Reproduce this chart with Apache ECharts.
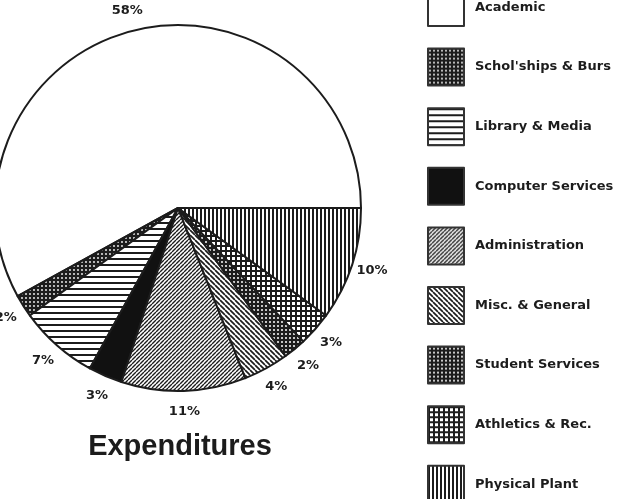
<!DOCTYPE html>
<html>
<head>
<meta charset="utf-8">
<script src="https://cdn.jsdelivr.net/npm/echarts@6/dist/echarts.min.js"></script>
<style>
  html, body { margin: 0; padding: 0; background: #fff; }
  #chart { width: 627px; height: 499px; }
</style>
</head>
<body>
<div id="chart"></div>
<script>
  // data (percent of expenditures)
  var categories = ['Academic', "Schol'ships & Burs", 'Library & Media', 'Computer Services',
    'Administration', 'Misc. & General', 'Student Services', 'Athletics & Rec.', 'Physical Plant'];
  var values = [58, 2, 7, 3, 11, 4, 2, 3, 10];
  var titleText = 'Expenditures';

  var ink = '#1c1c1c';

  // small canvas tiles for the hatch fills
  function tile(size, bg, draw) {
    var c = document.createElement('canvas');
    c.width = size; c.height = size;
    var ctx = c.getContext('2d');
    ctx.fillStyle = bg;
    ctx.fillRect(0, 0, size, size);
    draw(ctx, size);
    return { image: c, repeat: 'repeat' };
  }
  function dots(size, r) {
    return tile(size, ink, function (ctx, s) {
      ctx.fillStyle = '#fff';
      ctx.beginPath();
      ctx.arc(s / 2, s / 2, r, 0, Math.PI * 2);
      ctx.fill();
    });
  }
  function diag(size, w, up) {
    return tile(size, '#fff', function (ctx, s) {
      ctx.strokeStyle = ink;
      ctx.lineWidth = w;
      ctx.beginPath();
      for (var k = -1; k <= 1; k++) {
        if (up) { ctx.moveTo(k * s, s); ctx.lineTo(k * s + s, 0); }
        else { ctx.moveTo(k * s, 0); ctx.lineTo(k * s + s, s); }
      }
      ctx.stroke();
    });
  }

  var fills = [
    '#ffffff',                                                        // Academic
    dots(4, 0.9),                                                     // Schol'ships
    tile(6, '#fff', function (ctx) { ctx.fillStyle = ink; ctx.fillRect(0, 0, 6, 2); }),   // Library
    '#111111',                                                        // Computer
    diag(4, 1.4, true),                                               // Administration
    diag(5, 1.7, false),                                              // Misc
    dots(4, 1.0),                                                     // Student services
    tile(5, ink, function (ctx) { ctx.fillStyle = '#fff'; ctx.fillRect(2, 2, 3, 3); }),   // Athletics
    tile(4, '#fff', function (ctx) { ctx.fillStyle = ink; ctx.fillRect(0, 0, 2, 4); })    // Physical plant
  ];

  var pieData = categories.map(function (name, i) {
    return { name: name, value: values[i], itemStyle: { color: fills[i] } };
  });

  var myChart = echarts.init(document.getElementById('chart'));
  var option = {
    backgroundColor: '#fff',
    animation: false,
    title: {
      text: titleText,
      left: 180,
      top: 432,
      padding: 0,
      textAlign: 'center',
      textStyle: { fontFamily: 'Liberation Sans', fontWeight: 'bold', fontSize: 29, color: ink }
    },
    legend: {
      orient: 'vertical',
      left: 427,
      top: -12,
      height: 700,
      padding: 0,
      itemWidth: 36,
      itemHeight: 37,
      itemGap: 20.6,
      icon: 'rect',
      data: categories,
      itemStyle: { borderColor: '#333', borderWidth: 2 },
      textStyle: {
        fontFamily: 'DejaVu Sans', fontWeight: 'bold', fontSize: 13, color: ink,
        padding: [0, 0, 0, 6]
      }
    },
    series: [
      {
        type: 'pie',
        center: [178, 208],
        radius: 183,
        startAngle: 0,
        clockwise: false,
        avoidLabelOverlap: false,
        itemStyle: { borderColor: ink, borderWidth: 2 },
        emphasis: { disabled: true },
        label: {
          show: true,
          position: 'outside',
          formatter: '{c}%',
          fontFamily: 'DejaVu Sans',
          fontWeight: 'bold',
          fontSize: 13,
          color: ink
        },
        labelLine: { show: true, length: 21, length2: 0, lineStyle: { opacity: 0 } },
        // centre each label on the end of its (hidden) radial leader
        labelLayout: function (params) {
          var pts = params.labelLinePoints;
          if (!pts) return {};
          return { x: pts[1][0], y: pts[1][1], align: 'center', verticalAlign: 'middle' };
        },
        data: pieData
      }
    ]
  };
  myChart.setOption(option);
</script>
</body>
</html>
